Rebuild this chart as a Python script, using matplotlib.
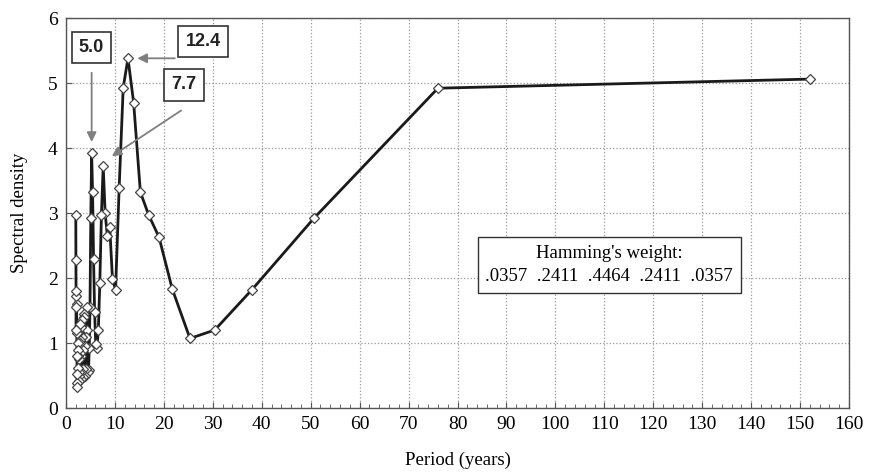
import matplotlib.pyplot as plt
import numpy as np
from matplotlib.ticker import MultipleLocator

# Periodogram: period = 152 / k, k = 1..76
N = 152
harmonics = np.arange(1, 77)
periods = N / harmonics
density = [5.06, 4.92, 2.92, 1.82, 1.20, 1.07, 1.83, 2.63, 2.97, 3.32,
           4.70, 5.38, 4.93, 3.38, 1.82, 1.98, 2.78, 2.65, 3.00, 3.72,
           2.97, 1.92, 1.20, 0.93, 0.98, 1.48, 2.30, 3.33, 3.92, 2.92,
           1.55, 0.92, 0.58, 0.55, 1.20, 1.55, 1.10, 0.60, 0.50, 0.95,
           1.45, 1.40, 0.90, 0.48, 0.60, 1.10, 1.35, 1.25, 0.80, 0.45,
           0.55, 0.85, 1.05, 1.30, 1.00, 0.75, 0.50, 0.42, 0.55, 0.80,
           1.00, 1.15, 0.90, 0.62, 0.38, 0.33, 0.52, 0.80, 1.15, 1.60,
           1.72, 1.55, 1.20, 1.80, 2.27, 2.97]

peak_labels = ['5.0', '12.4', '7.7']
weights = ['.0357', '.2411', '.4464', '.2411', '.0357']

plt.rcParams['font.family'] = ['Liberation Serif', 'DejaVu Serif']

fig = plt.figure(figsize=(8.78, 4.73), dpi=100)
ax = fig.add_axes([66 / 878, 1 - 408 / 473, (849 - 66) / 878, (408 - 18) / 473])

ax.plot(periods, density, color='#1a1a1a', lw=2.0, marker='D', ms=4.8,
        mfc='white', mec='#444444', mew=0.9, zorder=3)

ax.set_xlim(0, 160)
ax.set_ylim(0, 6)
ax.xaxis.set_major_locator(MultipleLocator(10))
ax.xaxis.set_minor_locator(MultipleLocator(2))
ax.yaxis.set_major_locator(MultipleLocator(1))
ax.grid(True, which='major', color='#999999', ls=':', lw=0.9)
ax.tick_params(which='both', direction='in', labelsize=14, color='#555555')
ax.tick_params(which='minor', length=3)
ax.tick_params(which='major', length=4, pad=6)
for s in ax.spines.values():
    s.set_color('#555555')
    s.set_linewidth(1.0)

ax.set_xlabel('Period (years)', fontsize=13.5, labelpad=13)
ax.set_ylabel('Spectral density', fontsize=13.5, labelpad=14)

box = dict(boxstyle='square,pad=0.4', fc='white', ec='#333333', lw=1.2)
arrow = dict(arrowstyle='-|>', color='#7f7f7f', lw=1.3, mutation_scale=14)
bold = dict(family=['Liberation Sans', 'DejaVu Sans'], fontweight='bold', fontsize=13,
            color='#222222')

# 5.0 label, arrow points straight down onto the first peak
ax.annotate('', xy=(5.24, 4.05), xytext=(5.24, 5.2), arrowprops=arrow)
ax.text(5.2, 5.55, peak_labels[0], ha='center', va='center', bbox=box, **bold)

# 12.4 label, horizontal arrow to the main peak
ax.annotate('', xy=(14.0, 5.38), xytext=(22.8, 5.38), arrowprops=arrow)
ax.text(28.0, 5.64, peak_labels[1], ha='center', va='center', bbox=box, **bold)

# 7.7 label, slanted arrow
ax.annotate('', xy=(8.9, 3.85), xytext=(24.0, 4.6), arrowprops=arrow)
ax.text(24.1, 4.97, peak_labels[2], ha='center', va='center', bbox=box, **bold)

# Hamming's weight box
ax.text(111, 2.2, "Hamming's weight:\n" + '  '.join(weights), ha='center', va='center',
        fontsize=13.5, linespacing=1.5,
        bbox=dict(boxstyle='square,pad=0.4', fc='white', ec='#333333', lw=1.0))

fig.savefig('out.png', dpi=100)
